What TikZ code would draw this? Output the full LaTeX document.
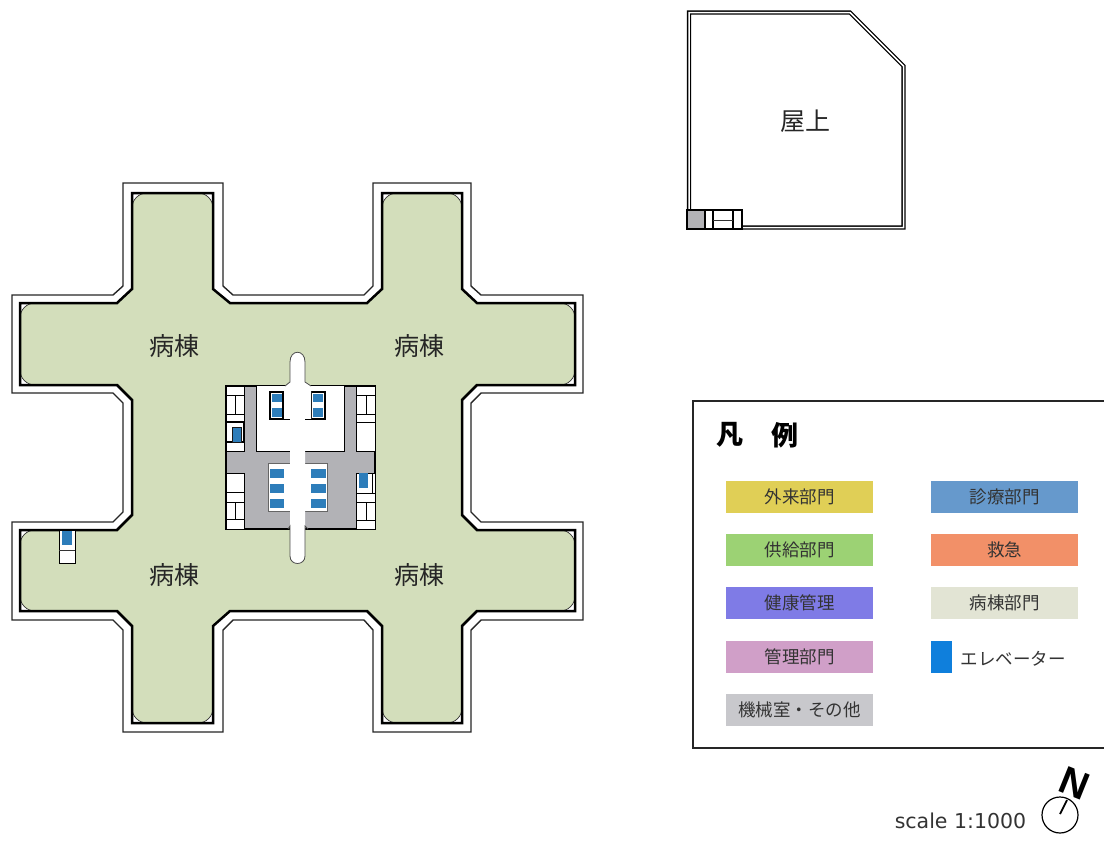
\documentclass[tikz,border=0pt]{standalone}
\usepackage{fontspec}
\usepackage{xcolor}
\setmainfont{Noto Sans CJK JP}
\newfontfamily\latinfont{DejaVu Sans}
\newfontfamily\northfont{Liberation Sans}
\usetikzlibrary{positioning}
\definecolor{wardgreen}{HTML}{D3DEBB}
\definecolor{coregray}{HTML}{B2B2B6}
\definecolor{liftblue}{HTML}{2D7DBA}
\definecolor{outpatient}{HTML}{E0CF56}
\definecolor{supply}{HTML}{9CD274}
\definecolor{health}{HTML}{7F7BE6}
\definecolor{admin}{HTML}{D09FC8}
\definecolor{machine}{HTML}{C8C8CC}
\definecolor{clinic}{HTML}{6699CC}
\definecolor{emergency}{HTML}{F29068}
\definecolor{wardpale}{HTML}{E2E4D4}
\definecolor{legendlift}{HTML}{0F7FDC}
\begin{document}
\begin{tikzpicture}[x=1pt, y=-1pt, line join=miter,
    wall/.style={draw=black, line width=2.5pt},
    skin/.style={draw=black!85, line width=1.4pt},
    room/.style={draw=black, line width=0.9pt, fill=white},
    thinline/.style={draw=black!80, line width=0.7pt},
    lift/.style={fill=liftblue},
    roomtext/.style={text=black!85, font=\fontsize{25}{25}\selectfont, inner sep=0pt},
    swatchtext/.style={text=black!80, font=\fontsize{17.5}{18}\selectfont, inner sep=0pt}]
    \useasboundingbox (0,0) rectangle (1104,855);

    % floor outline
    \draw[skin, fill=white] (123,183) -- (223,183) -- (223,286) -- (233,295) -- (364,295) -- (373,286) -- (373,183) -- (471,183) -- (471,286) -- (481,295) -- (583,295) -- (583,393) -- (481,393) -- (471,403) -- (471,512) -- (481,522) -- (583,522) -- (583,620) -- (481,620) -- (471,630) -- (471,732) -- (373,732) -- (373,630) -- (364,620) -- (233,620) -- (223,630) -- (223,732) -- (123,732) -- (123,630) -- (113,620) -- (12,620) -- (12,522) -- (113,522) -- (123,512) -- (123,403) -- (113,393) -- (12,393) -- (12,295) -- (113,295) -- (123,286) -- cycle;
    \draw[thinline, fill=white] (132,193) -- (213,193) -- (213,289) -- (230,303) -- (367,303) -- (382,289) -- (382,193) -- (462,193) -- (462,289) -- (477,303) -- (575,303) -- (575,385) -- (477,385) -- (462,400) -- (462,515) -- (477,530) -- (575,530) -- (575,611) -- (477,611) -- (462,626) -- (462,723) -- (382,723) -- (382,626) -- (367,611) -- (230,611) -- (213,626) -- (213,723) -- (132,723) -- (132,626) -- (117,611) -- (20,611) -- (20,530) -- (117,530) -- (132,515) -- (132,400) -- (117,385) -- (20,385) -- (20,303) -- (117,303) -- (132,289) -- cycle;
    \draw[thinline, fill=wardgreen] (132,240) [rounded corners=15pt] -- (132,193) -- (213,193) [sharp corners] -- (213,289) -- (230,303) -- (367,303) -- (382,289) [rounded corners=15pt] -- (382,193) -- (462,193) [sharp corners] -- (462,289) -- (477,303) [rounded corners=15pt] -- (575,303) -- (575,385) [sharp corners] -- (477,385) -- (462,400) -- (462,515) -- (477,530) [rounded corners=15pt] -- (575,530) -- (575,611) [sharp corners] -- (477,611) -- (462,626) [rounded corners=15pt] -- (462,723) -- (382,723) [sharp corners] -- (382,626) -- (367,611) -- (230,611) -- (213,626) [rounded corners=15pt] -- (213,723) -- (132,723) [sharp corners] -- (132,626) -- (117,611) [rounded corners=15pt] -- (20,611) -- (20,530) [sharp corners] -- (117,530) -- (132,515) -- (132,400) -- (117,385) [rounded corners=15pt] -- (20,385) -- (20,303) [sharp corners] -- (117,303) -- (132,289) -- cycle;
    \draw[wall] (132,193) -- (213,193) -- (213,289) -- (230,303) -- (367,303) -- (382,289) -- (382,193) -- (462,193) -- (462,289) -- (477,303) -- (575,303) -- (575,385) -- (477,385) -- (462,400) -- (462,515) -- (477,530) -- (575,530) -- (575,611) -- (477,611) -- (462,626) -- (462,723) -- (382,723) -- (382,626) -- (367,611) -- (230,611) -- (213,626) -- (213,723) -- (132,723) -- (132,626) -- (117,611) -- (20,611) -- (20,530) -- (117,530) -- (132,515) -- (132,400) -- (117,385) -- (20,385) -- (20,303) -- (117,303) -- (132,289) -- cycle;

    % core block
    \draw[fill=coregray, draw=black, line width=1.5pt] (226,386) rectangle (375,529);
    \fill[white] (256,386) rectangle (344,451);
    \draw[black, line width=0.9pt] (256,386) -- (256,451) -- (344,451) -- (344,386);

    % stair and toilet cells
    \draw[room] (226,386) rectangle (244,395);
    \draw[room] (226,395) rectangle (235,414);
    \draw[room] (235,395) rectangle (244,414);
    \draw[room] (226,414) rectangle (244,422);
    \draw[room, line width=1.4pt] (226,422) rectangle (244,442);
    \draw[room] (226,442) rectangle (244,451);
    \fill[liftblue] (232,427) rectangle (241,442);
    \draw[black!90, line width=0.9pt] (232,427) rectangle (241,442);
    \draw[room] (356,386) rectangle (375,395);
    \draw[room] (356,395) rectangle (366,414);
    \draw[room] (366,395) rectangle (375,414);
    \draw[room] (356,414) rectangle (375,422);
    \draw[room] (356,422) rectangle (375,451);
    \draw[room] (226,473) rectangle (244,492);
    \draw[room] (226,492) rectangle (244,502);
    \draw[room] (226,502) rectangle (235,519);
    \draw[room] (235,502) rectangle (244,519);
    \draw[room] (226,519) rectangle (244,529);
    \draw[room] (356,473) rectangle (372,493);
    \draw[room] (372,473) rectangle (375,493);
    \fill[liftblue] (359,473) rectangle (368,488);
    \draw[room] (356,493) rectangle (375,502);
    \draw[room] (356,502) rectangle (366,520);
    \draw[room] (366,502) rectangle (375,520);
    \draw[room] (356,520) rectangle (375,529);

    % lifts beside the corridor
    \draw[room, line width=1.2pt] (270,392) rectangle (283,419);
    \fill[lift] (272,394) rectangle (282,402);
    \fill[lift] (272,408) rectangle (282,417);
    \draw[room, line width=1.2pt] (311,392) rectangle (325,419);
    \fill[lift] (313,394) rectangle (323,402);
    \fill[lift] (313,408) rectangle (323,417);
    \fill[white] (268,463) rectangle (327,511);
    \draw[black!60, line width=0.6pt] (268,511) -- (268,463) -- (327,463) -- (327,511) -- cycle;
    \fill[lift] (270,469) rectangle (284,478);
    \fill[lift] (270,484) rectangle (284,493);
    \fill[lift] (270,499) rectangle (284,508);
    \fill[lift] (311,469) rectangle (326,478);
    \fill[lift] (311,484) rectangle (326,493);
    \fill[lift] (311,499) rectangle (326,508);

    % corridor
    \fill[white] (285,386) -- (290,382) -- (290,362) .. controls (290,349) and (305,349) .. (305,362) -- (305,382) -- (311,386) -- (311,419) -- (305,419) -- (305,525) -- (305,556) .. controls (305,566) and (290,566) .. (290,556) -- (290,419) -- (285,419) -- cycle;
    \draw[black!70, line width=0.8pt] (285,386) -- (290,382) -- (290,362) .. controls (290,349) and (305,349) .. (305,362) -- (305,382) -- (311,386);
    \draw[black!70, line width=0.8pt] (288,529) -- (290,526) -- (290,556) .. controls (290,566) and (305,566) .. (305,556) -- (305,526) -- (308,529);
    \draw[black, line width=0.9pt] (283,419) -- (290,419) (305,419) -- (311,419);

    % lift in the south-west wing
    \draw[room] (59,530) rectangle (75,563);
    \fill[lift] (62,531) rectangle (72,545);
    \draw[black!80, line width=0.6pt] (59,550) -- (75,550);

    \node[roomtext] (wardnw) at (174,346) {病棟};
    \node[roomtext] (wardne) at (419,346) {病棟};
    \node[roomtext] (wardsw) at (174,575) {病棟};
    \node[roomtext] (wardse) at (419,575) {病棟};

    % roof
    \draw[draw=black, line width=1.3pt, double=white, double distance=1.5pt] (689,12.5) -- (850,12.5) -- (903.5,66) -- (903.5,227.5) -- (689,227.5) -- cycle;
    \node[roomtext] (roof) at (805,121) {屋上};
    \draw[black, fill=white, line width=2pt] (687,210) rectangle (742,229);
    \draw[black, fill=coregray, line width=1.6pt] (687,210) rectangle (705,229);
    \draw[black, line width=1.2pt] (713,210) -- (713,229) (733,210) -- (733,229);
    \draw[black!80, line width=0.8pt] (713,220) -- (733,220);

    % legend
    \draw[black!85, line width=1.5pt] (1104,401) -- (693,401) -- (693,748) -- (1104,748);
    \node[inner sep=0pt, font=\fontsize{27}{27}\selectfont\bfseries] (legendone) at (730,435) {凡};
    \node[inner sep=0pt, font=\fontsize{27}{27}\selectfont\bfseries] (legendtwo) at (785,435) {例};
    \fill[outpatient] (726,481) rectangle (873,513) node[pos=0.5, swatchtext] (swone) {外来部門};
    \fill[supply] (726,534) rectangle (873,566) node[pos=0.5, swatchtext] (swtwo) {供給部門};
    \fill[health] (726,587) rectangle (873,619) node[pos=0.5, swatchtext] (swthree) {健康管理};
    \fill[admin] (726,641) rectangle (873,673) node[pos=0.5, swatchtext] (swfour) {管理部門};
    \fill[machine] (726,694) rectangle (873,726) node[pos=0.5, swatchtext] (swfive) {機械室・その他};
    \fill[clinic] (931,481) rectangle (1078,513) node[pos=0.5, swatchtext] (swsix) {診療部門};
    \fill[emergency] (931,534) rectangle (1078,566) node[pos=0.5, swatchtext] (swseven) {救急};
    \fill[wardpale] (931,587) rectangle (1078,619) node[pos=0.5, swatchtext] (sweight) {病棟部門};
    \fill[legendlift] (931,641) rectangle (952,673);
    \node[swatchtext] (swlift) at (1013,659) {エレベーター};

    % scale and north mark
    \node[inner sep=0pt, text=black!80, font=\latinfont\fontsize{20.5}{21}\selectfont] (scale) at (960.5,821) {scale 1:1000};
    \node[draw=black, line width=1.2pt, circle, minimum size=36pt, inner sep=0pt] (compass) at (1060,815) {};
    \coordinate (needle) at (1060,814);
    \draw[black, line width=1.8pt] (needle) -- (1067,800);
    \node[inner sep=0pt, rotate=-22, font=\northfont\fontsize{39}{39}\selectfont\bfseries] (north) at (1075,783) {N};
\end{tikzpicture}
\end{document}
